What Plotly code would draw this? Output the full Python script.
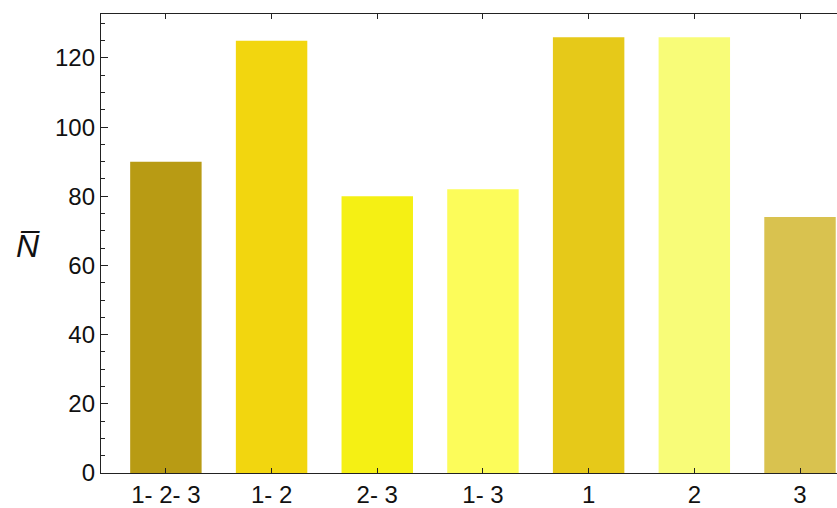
import plotly.graph_objects as go

categories = ["1- 2- 3", "1- 2", "2- 3", "1- 3", "1", "2", "3"]
values = [90, 125, 80, 82, 126, 126, 74]
colors = ["#B89B14", "#F2D60F", "#F5F014", "#FCFC5A", "#E6C919", "#F8FC78", "#D9C24F"]
y_ticks = [0, 20, 40, 60, 80, 100, 120]

fig = go.Figure(go.Bar(x=list(range(len(categories))), y=values, marker=dict(color=colors, line=dict(width=0)), width=0.676))

fig.update_layout(
    width=837, height=508,
    margin=dict(l=101, r=0, t=14, b=33),
    plot_bgcolor="white", paper_bgcolor="white",
    showlegend=False,
    font=dict(family="Liberation Sans, Arial, sans-serif", size=24, color="#111"),
)
fig.update_xaxes(
    range=[-0.614, 6.35],
    tickmode="array", tickvals=list(range(len(categories))), ticktext=categories,
    ticks="inside", ticklen=5, tickwidth=1.3, tickcolor="#222",
    showline=True, linecolor="#222", linewidth=1.3, mirror="ticks",
    showgrid=False, zeroline=False,
)
fig.update_yaxes(
    range=[0, 132.7],
    tickmode="array", tickvals=y_ticks,
    ticks="inside", ticklen=7, tickwidth=1.3, tickcolor="#222",
    minor=dict(dtick=5, ticks="inside", ticklen=4, tickwidth=1, tickcolor="#222"),
    showline=True, linecolor="#222", linewidth=1.3,
    showgrid=False, zeroline=False,
)
fig.add_annotation(
    text="<i>N\u0305</i>", xref="paper", yref="paper", x=-0.099, y=0.495,
    xanchor="center", yanchor="middle",
    showarrow=False, font=dict(size=32, color="#111"),
)
fig.write_html(
    "out.html",
    config={"displayModeBar": False},
    post_script="document.body.style.margin='0';document.body.style.overflow='hidden';",
)
